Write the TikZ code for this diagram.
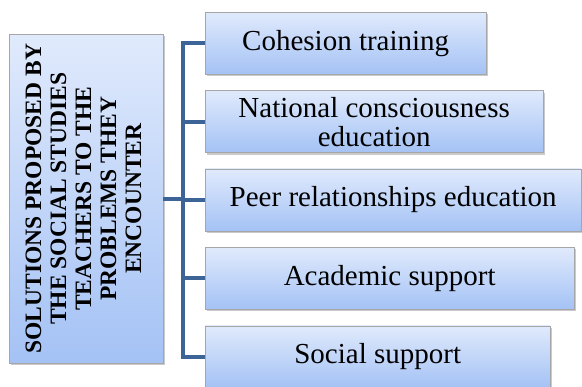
\documentclass[tikz,border=0pt]{standalone}
\usepackage{fontspec}
\setmainfont{Liberation Serif}
\usepackage{tikz}
\usetikzlibrary{positioning,shadows}
\definecolor{boxtop}{RGB}{224,234,252}
\definecolor{boxbot}{RGB}{164,194,245}
\definecolor{linkblue}{RGB}{60,100,150}
\tikzset{
    solbox/.style={
        draw=gray!70, rectangle, anchor=north west,
        top color=boxtop, bottom color=boxbot,
        minimum height=62pt, inner sep=2pt, align=center,
        text=black, font=\fontsize{29}{29}\selectfont,
        drop shadow={shadow xshift=2pt, shadow yshift=-2pt,
            opacity=0.35, fill=black!60}
    },
    topicbox/.style={
        solbox, minimum width=154pt, minimum height=329pt,
        font=\fontsize{23.5}{25}\selectfont\bfseries
    },
    branch/.style={draw=linkblue, line width=4pt}
}

\begin{document}
\begin{tikzpicture}[x=1pt,y=-1pt]
    \useasboundingbox (0,0) rectangle (582,387);
    \clip (0,0) rectangle (582,387);

    \node[topicbox] (topic) at (9,34) {\rotatebox{90}{\begin{tabular}{@{}c@{}}
        SOLUTIONS PROPOSED BY\\ THE SOCIAL STUDIES\\ TEACHERS TO THE\\
        PROBLEMS THEY\\ ENCOUNTER\end{tabular}}};

    \node[solbox, minimum width=281pt] (cohesion) at (205,12) {Cohesion training};
    \node[solbox, minimum width=338pt, below=16pt of cohesion.south west, anchor=north west]
        (national) {National consciousness\\ education};
    \node[solbox, minimum width=376pt, below=16pt of national.south west, anchor=north west]
        (peer) {Peer relationships education};
    \node[solbox, minimum width=369pt, below=16pt of peer.south west, anchor=north west]
        (academic) {Academic support};
    \node[solbox, minimum width=345pt, below=16pt of academic.south west, anchor=north west]
        (social) {Social support};

    % tree links
    \draw[branch] (topic.east) -- ++(20pt,0) coordinate (hub);
    \foreach \leaf in {cohesion,national,peer,academic,social}
        \draw[branch] (hub) |- (\leaf.west);
\end{tikzpicture}
\end{document}
